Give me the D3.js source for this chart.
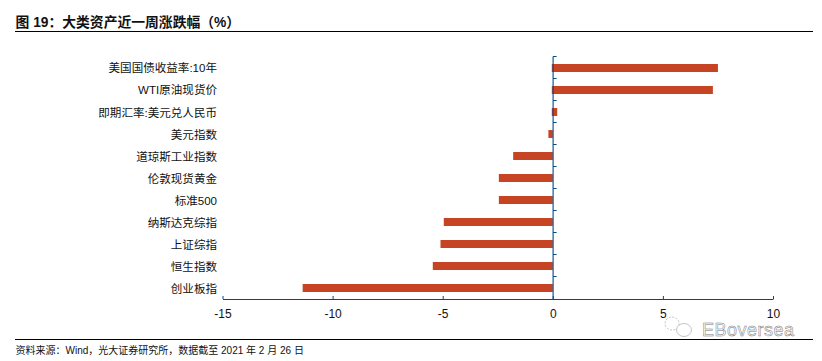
<!DOCTYPE html>
<html><head><meta charset="utf-8">
<script src="https://cdn.jsdelivr.net/npm/d3@7/dist/d3.min.js"></script>
<style>
html,body{margin:0;padding:0;background:#fff}
svg{display:block}
text{font-family:"Liberation Sans","Noto Sans CJK SC",sans-serif;fill:#111}
</style></head><body>
<svg id="c" width="822" height="361"></svg>
<script>
const categories=["美国国债收益率:10年","WTI原油现货价","即期汇率:美元兑人民币","美元指数","道琼斯工业指数","伦敦现货黄金","标准500","纳斯达克综指","上证综指","恒生指数","创业板指"];
const values=[7.5,7.27,0.2,-0.2,-1.8,-2.45,-2.45,-4.95,-5.1,-5.45,-11.36];
const xTicks=[-15,-10,-5,0,5,10];
const titleText="图 19\uFF1A大类资产近一周涨跌幅\uFF08%\uFF09";
const sourceText="资料来源\uFF1AWind\uFF0C光大证券研究所\uFF0C数据截至 2021 年 2 月 26 日";
const axisColor="#004a8c",barColor="#c64423";
const svg=d3.select("#c");
const x=d3.scaleLinear().domain([-15,10]).range([222.5,773]);
const y=d3.scaleBand().domain(categories).range([57,299.5]);
svg.append("text").attr("x",15.5).attr("y",26.5).attr("font-size",13.8).attr("font-weight","bold").text(titleText);
svg.append("line").attr("x1",15).attr("x2",813).attr("y1",31.5).attr("y2",31.5).attr("stroke","#000").attr("stroke-width",1.2);
svg.append("line").attr("x1",15).attr("x2",813).attr("y1",339.5).attr("y2",339.5).attr("stroke","#000").attr("stroke-width",1.2);
svg.append("text").attr("x",15.5).attr("y",353.5).attr("font-size",10).text(sourceText);
const gx=svg.append("g").attr("transform","translate(0,299)");
gx.call(d3.axisBottom(x).tickValues(xTicks).tickSizeInner(-3).tickSizeOuter(0).tickPadding(10).tickFormat(d3.format("d")));
gx.selectAll("line").attr("stroke",axisColor);
gx.select(".domain").attr("stroke",axisColor).attr("stroke-width",1);
gx.selectAll("text").attr("font-size",12).attr("font-family",'"Liberation Sans",sans-serif').attr("fill","#111").each(function(){d3.select(this).text(d3.select(this).text().replace("−","-"))});
svg.append("g").selectAll("rect").data(values).join("rect")
  .attr("x",d=>x(Math.min(d,0))-(d>0?1:0))
  .attr("width",d=>Math.abs(x(d)-x(0))+(d>0?1:0))
  .attr("y",(d,i)=>Math.round(y(categories[i])+y.bandwidth()/2-4))
  .attr("height",8).attr("fill",barColor);
const gy=svg.append("g").attr("transform",`translate(${x(0)+0.3},0)`);
const yEdges=d3.range(categories.length).map(i=>y(categories[i]));
gy.append("line").attr("y1",56.5).attr("y2",299).attr("stroke",axisColor).attr("stroke-width",1.1);
gy.selectAll("line.t").data(yEdges).join("line").attr("class","t").attr("x1",0).attr("x2",3.5).attr("y1",d=>Math.round(d)-0.5).attr("y2",d=>Math.round(d)-0.5).attr("stroke",axisColor);
svg.append("g").selectAll("text").data(categories).join("text")
  .attr("x",217).attr("y",d=>y(d)+y.bandwidth()/2+4.4).attr("text-anchor","end").attr("font-size",11.55).text(d=>d);
// watermark
const wm=svg.append("g").attr("fill","none").attr("stroke","#aaa").attr("stroke-width",0.7);
wm.append("ellipse").attr("cx",672).attr("cy",323.5).attr("rx",7).attr("ry",6.5).attr("stroke-dasharray","2 1.5");
wm.append("ellipse").attr("cx",684).attr("cy",330).attr("rx",7.5).attr("ry",6.5).attr("fill","#fff");
svg.append("text").attr("x",702).attr("y",336).attr("font-size",18).attr("font-family",'"Liberation Sans",sans-serif').attr("letter-spacing",0.5).attr("stroke","#777").attr("stroke-width",0.5).style("fill","#fff").text("EBoversea");
</script></body></html>
